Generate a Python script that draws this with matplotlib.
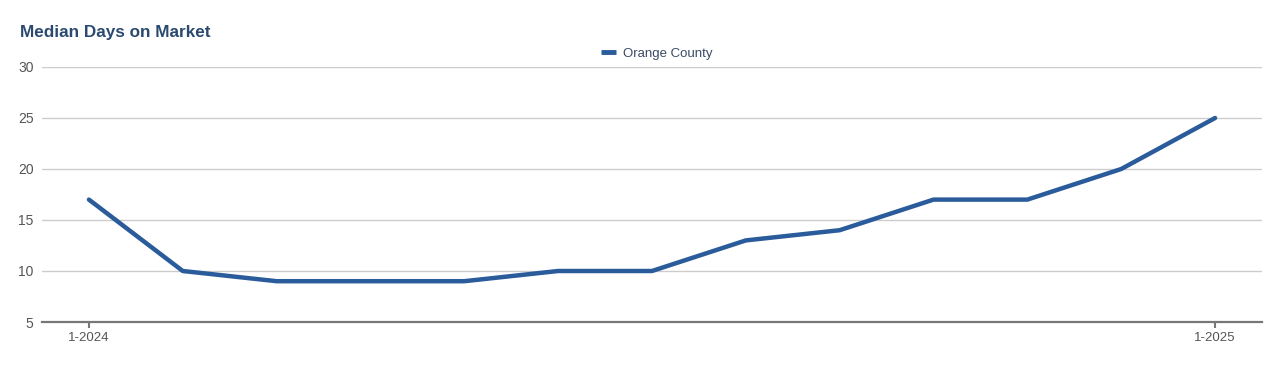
import matplotlib
matplotlib.use("Agg")
import matplotlib.pyplot as plt

plt.rcParams['font.family'] = ['Liberation Sans', 'DejaVu Sans']

months = ["1-2024", "2-2024", "3-2024", "4-2024", "5-2024", "6-2024", "7-2024",
          "8-2024", "9-2024", "10-2024", "11-2024", "12-2024", "1-2025"]
orange_county = [17, 10, 9, 9, 9, 10, 10, 13, 14, 17, 17, 20, 25]
tick_labels = ["1-2024", "1-2025"]
y_ticks = [5, 10, 15, 20, 25, 30]

fig = plt.figure(figsize=(12.74, 3.70), dpi=100)
ax = fig.add_axes([42/1274, 1-322/370, (1262-42)/1274, (322-67)/370])

x = list(range(len(months)))
ax.plot(x, orange_county, color='#2a5b9b', linewidth=3.2, solid_capstyle='round',
        solid_joinstyle='round', label='Orange County', zorder=3)

ax.set_xlim(-0.5, len(months) - 0.5)
ax.set_ylim(5, 30)
ax.set_yticks(y_ticks)
ax.set_yticklabels([str(v) for v in y_ticks])
ax.set_xticks([0, len(months) - 1])
ax.set_xticklabels(tick_labels)

ax.grid(axis='y', color='#cccccc', linewidth=1.0)
ax.set_axisbelow(True)
for s in ['top', 'right', 'left']:
    ax.spines[s].set_visible(False)
ax.spines['bottom'].set_color('#777777')
ax.spines['bottom'].set_linewidth(1.6)

ax.tick_params(axis='y', length=0, pad=6, labelsize=10, labelcolor='#555555')
ax.tick_params(axis='x', length=4, width=1.5, color='#777777', pad=3,
               labelsize=9.5, labelcolor='#555555')

fig.text(20/1274, 1-33/370, "Median Days on Market", fontsize=12.3, fontweight='bold',
         color='#2b4a70', va='center', ha='left')

leg = fig.legend(loc='center', bbox_to_anchor=(657/1274, 1-54/370), frameon=False,
                 fontsize=9.5, handlelength=1.1, handletextpad=0.55)
for t in leg.get_texts():
    t.set_color('#3a4a66')
for h in leg.get_lines():
    h.set_linewidth(3.5)
    h.set_solid_capstyle('butt')

fig.savefig("out.png", dpi=100)
